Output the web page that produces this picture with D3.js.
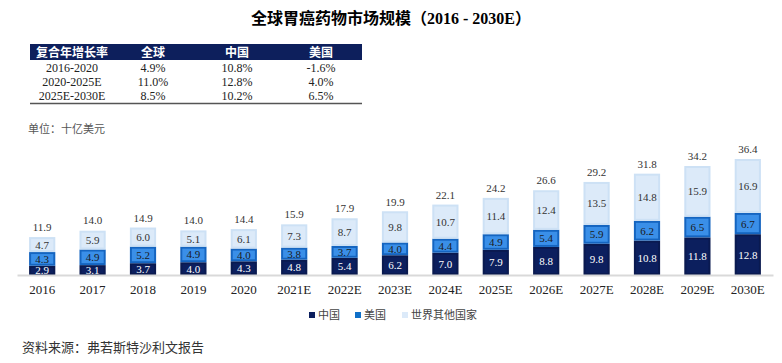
<!DOCTYPE html>
<html>
<head>
<meta charset="utf-8">
<script src="https://cdn.jsdelivr.net/npm/d3@7"></script>
<style>
  body { margin: 0; background: #fff; }
  svg { display: block; font-family: "Liberation Serif", "Noto Sans CJK SC", serif; }
</style>
</head>
<body>
<svg id="chart" width="782" height="363"></svg>
<script>
"use strict";

// data
const years = ["2016", "2017", "2018", "2019", "2020", "2021E", "2022E", "2023E",
  "2024E", "2025E", "2026E", "2027E", "2028E", "2029E", "2030E"];
const china = [2.9, 3.1, 3.7, 4.0, 4.3, 4.8, 5.4, 6.2, 7.0, 7.9, 8.8, 9.8, 10.8, 11.8, 12.8];
const usa = [4.3, 4.9, 5.2, 4.9, 4.0, 3.8, 3.7, 4.0, 4.4, 4.9, 5.4, 5.9, 6.2, 6.5, 6.7];
const rest = [4.7, 5.9, 6.0, 5.1, 6.1, 7.3, 8.7, 9.8, 10.7, 11.4, 12.4, 13.5, 14.8, 15.9, 16.9];
const totals = [11.9, 14.0, 14.9, 14.0, 14.4, 15.9, 17.9, 19.9, 22.1, 24.2, 26.6, 29.2, 31.8, 34.2, 36.4];

const seriesNames = ["中国", "美国", "世界其他国家"];

const cagrHeader = ["复合年增长率", "全球", "中国", "美国"];
const cagrPeriods = ["2016-2020", "2020-2025E", "2025E-2030E"];
const cagrGlobal = ["4.9%", "11.0%", "8.5%"];
const cagrChina = ["10.8%", "12.8%", "10.2%"];
const cagrUS = ["-1.6%", "4.0%", "6.5%"];

const svg = d3.select("#chart");

// title
svg.append("text")
  .attr("x", 391).attr("y", 24)
  .attr("text-anchor", "middle")
  .attr("font-size", 16).attr("font-weight", "bold")
  .attr("fill", "#000")
  .text("全球胃癌药物市场规模（2016 - 2030E）");

// CAGR table
const colX = [72, 153, 237, 321];
const tbl = svg.append("g");
tbl.append("rect")
  .attr("x", 30).attr("y", 44).attr("width", 332).attr("height", 16)
  .attr("fill", "#0d1f5c");
tbl.selectAll(".hdr")
  .data(cagrHeader)
  .enter()
  .append("text")
  .attr("x", (_, i) => colX[i]).attr("y", 56.5)
  .attr("text-anchor", "middle")
  .attr("font-size", 12).attr("font-weight", "bold")
  .attr("fill", "#fff")
  .text(d => d);

const rows = cagrPeriods.map((p, i) => [p, cagrGlobal[i], cagrChina[i], cagrUS[i]]);
rows.forEach((row, r) => {
  tbl.selectAll(".row" + r)
    .data(row)
    .enter()
    .append("text")
    .attr("x", (_, i) => colX[i]).attr("y", 72 + r * 14)
    .attr("text-anchor", "middle")
    .attr("font-size", 12)
    .attr("fill", "#222")
    .text(d => d);
});
tbl.append("line")
  .attr("x1", 30).attr("x2", 362).attr("y1", 103.5).attr("y2", 103.5)
  .attr("stroke", "#555").attr("stroke-width", 1.5);

// unit
svg.append("text")
  .attr("x", 28).attr("y", 133)
  .attr("font-size", 11).attr("fill", "#555")
  .text("单位：十亿美元");

// stacked bars
const x = d3.scaleBand().domain(years).range([17, 773]).paddingInner(0.48).paddingOuter(0.24);
const y = d3.scaleLinear().domain([0, 36.4]).range([275, 159]);

const table = years.map((yr, i) => ({ year: yr, china: china[i], usa: usa[i], rest: rest[i], total: totals[i] }));
const stack = d3.stack().keys(["china", "usa", "rest"])(table);

const fills = { china: "#0c1f5e", usa: "#3a8fe8", rest: "#dceaf9" };
const strokes = { china: "#0a1a50", usa: "#1565c0", rest: "#cde1f5" };
const labelColor = { china: "#fff", usa: "#1a1a1a", rest: "#333" };

const layers = svg.selectAll(".layer")
  .data(stack)
  .enter()
  .append("g")
  .attr("class", "layer");

layers.selectAll("rect")
  .data(s => s.map(d => ({ key: s.key, d })))
  .enter()
  .append("rect")
  .attr("x", e => x(e.d.data.year) + 1)
  .attr("y", e => y(e.d[1]) + 1)
  .attr("width", x.bandwidth() - 2)
  .attr("height", e => y(e.d[0]) - y(e.d[1]) - 2)
  .attr("fill", e => fills[e.key])
  .attr("stroke", e => strokes[e.key])
  .attr("stroke-width", 2);

layers.selectAll("text")
  .data(s => s.map(d => ({ key: s.key, d })))
  .enter()
  .append("text")
  .attr("x", e => x(e.d.data.year) + x.bandwidth() / 2)
  .attr("y", e => (y(e.d[0]) + y(e.d[1])) / 2 + 4)
  .attr("text-anchor", "middle")
  .attr("font-size", 11)
  .attr("fill", e => labelColor[e.key])
  .text(e => (e.d[1] - e.d[0]).toFixed(1));

// totals
svg.selectAll(".total")
  .data(table)
  .enter()
  .append("text")
  .attr("x", d => x(d.year) + x.bandwidth() / 2)
  .attr("y", d => y(d.total) - 6)
  .attr("text-anchor", "middle")
  .attr("font-size", 11)
  .attr("fill", "#333")
  .text(d => d.total.toFixed(1));

// axis
const axis = svg.append("g")
  .attr("transform", "translate(0,275)")
  .call(d3.axisBottom(x).tickSize(0).tickPadding(10));
axis.select(".domain").attr("stroke", "#d9d9d9").attr("stroke-width", 2);
axis.selectAll("text")
  .attr("font-family", "Liberation Serif, serif")
  .attr("font-size", 13)
  .attr("fill", "#222");

// legend
const legendColors = ["#0c1f5e", "#1070c8", "#dceaf9"];
const legendX = [309, 355, 402];
const lg = svg.append("g").attr("font-size", 11);
lg.selectAll("rect")
  .data(seriesNames)
  .enter()
  .append("rect")
  .attr("x", (_, i) => legendX[i]).attr("y", 312)
  .attr("width", 6).attr("height", 6)
  .attr("fill", (_, i) => legendColors[i]);
lg.selectAll("text")
  .data(seriesNames)
  .enter()
  .append("text")
  .attr("x", (_, i) => legendX[i] + 9).attr("y", 319)
  .attr("fill", "#444")
  .text(d => d);

// source
svg.append("text")
  .attr("x", 22).attr("y", 352)
  .attr("font-size", 13).attr("fill", "#333")
  .text("资料来源：弗若斯特沙利文报告");
</script>
</body>
</html>
